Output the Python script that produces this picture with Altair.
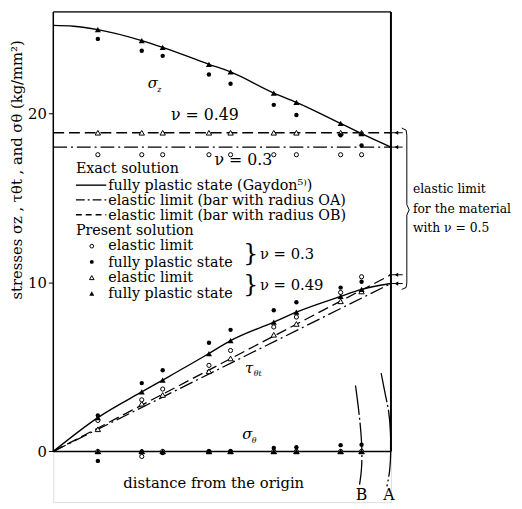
import altair as alt
import pandas as pd

FONT = "DejaVu Serif"

# ---- data ---------------------------------------------------------------
# x positions of the computed points (fraction of the distance O -> A)
x_pts = [0.132, 0.262, 0.324, 0.461, 0.525, 0.653, 0.720, 0.851, 0.913]

# sigma_z
sz_e03 = [17.55, 17.55, 17.55, 17.55, 17.55, 17.55, 17.55, 17.55, 17.55]
sz_p03 = [24.4, 23.7, 23.4, 22.3, 21.75, 20.5, 19.9, 18.7, 18.1]
sz_e049 = [18.85, 18.85, 18.85, 18.85, 18.85, 18.85, 18.85, 18.85, 18.85]
sz_p049 = [24.95, 24.3, 23.9, 22.9, 22.45, 21.2, 20.65, 19.4, 18.8]
# tau_theta_t
tau_e03 = [1.83, 3.05, 3.69, 5.09, 5.97, 7.36, 7.95, 9.4, 10.33]
tau_p03 = [2.12, 4.04, 4.8, 6.43, 7.19, 8.35, 8.82, 9.69, 10.04]
tau_e049 = [1.31, 2.82, 3.34, 4.74, 5.5, 6.9, 7.54, 8.88, 9.46]
tau_p049 = [2.0, 3.52, 4.22, 5.79, 6.55, 7.65, 8.24, 9.17, 9.58]
# sigma_theta
st_e03 = [0.0, -0.3, 0.0, 0.0, 0.0, 0.0, 0.0, 0.0, 0.0]
st_p03 = [-0.56, 0.0, -0.1, 0.0, 0.0, 0.2, 0.25, 0.37, 0.4]
st_e049 = [0.0, 0.0, 0.0, 0.0, 0.0, 0.0, 0.0, 0.0, 0.0]
st_p049 = [0.0, 0.0, 0.0, 0.0, 0.0, 0.0, 0.0, 0.0, 0.0]

# exact solutions
gay_sz_x = [0.0, 0.06, 0.132, 0.262, 0.324, 0.461, 0.525, 0.653, 0.72, 0.851, 0.913, 1.0]
gay_sz_v = [25.2, 25.15, 24.95, 24.3, 23.9, 22.9, 22.45, 21.2, 20.65, 19.4, 18.8, 18.0]
gay_tau_x = [0.0, 0.132, 0.262, 0.324, 0.461, 0.525, 0.653, 0.72, 0.851, 0.913, 1.0]
gay_tau_v = [0.0, 2.0, 3.52, 4.22, 5.79, 6.55, 7.65, 8.24, 9.17, 9.58, 9.93]
oa_x = [0.0, 1.0]
oa_sz = [18.0, 18.0]
oa_tau = [0.0, 9.93]
ob_sz = [18.85, 18.85]
ob_tau = [0.0, 10.45]

# radii B and A (arcs)
arcA_x = [0.971, 0.985, 0.994, 0.999, 1.0, 0.997, 0.988]
arcA_y = [4.63, 3.17, 2.41, 1.2, -0.03, -1.2, -2.07]
arcB_x = [0.895, 0.905, 0.911, 0.915, 0.913, 0.907]
arcB_y = [3.9, 2.4, 1.2, -0.03, -1.2, -1.96]

# ---- helpers ------------------------------------------------------------
X = alt.Scale(domain=[0, 1])
Y = alt.Scale(domain=[-3, 26])


def pts(values):
    rows = []
    for xs, vs in values:
        rows += [{"x": a, "v": b} for a, b in zip(xs, vs)]
    return pd.DataFrame(rows)


def line(xs, vs, dash=None, width=1.4, interp="monotone"):
    kw = dict(color="black", strokeWidth=width, interpolate=interp, clip=False)
    if dash:
        kw["strokeDash"] = dash
    df = pd.DataFrame({"x": xs, "v": vs, "i": list(range(len(xs)))})
    return alt.Chart(df).mark_line(**kw).encode(
        x=alt.X("x:Q", scale=X, axis=None), y=alt.Y("v:Q", scale=Y), order="i:Q"
    )


def points(data, shape, filled, size):
    kw = dict(shape=shape, filled=filled, size=size, color="black", opacity=1, clip=False)
    if not filled:
        kw["strokeWidth"] = 1
        kw["fill"] = "white"
        kw["fillOpacity"] = 1
    return alt.Chart(data).mark_point(**kw).encode(
        x=alt.X("x:Q", scale=X, axis=None), y=alt.Y("v:Q", scale=Y)
    )


def text(rows, size=13, align="left", style="normal", baseline="middle"):
    df = pd.DataFrame(rows, columns=["x", "v", "t"])
    return alt.Chart(df).mark_text(
        font=FONT, fontSize=size, align=align, baseline=baseline, fontStyle=style, color="black"
    ).encode(x=alt.X("x:Q", scale=X, axis=None), y=alt.Y("v:Q", scale=Y), text="t:N")


def rule(x, x2, y, y2, dash=None, width=1.3):
    kw = dict(color="black", strokeWidth=width)
    if dash:
        kw["strokeDash"] = dash
    df = pd.DataFrame({"x": [x], "x2": [x2], "v": [y], "v2": [y2]})
    return alt.Chart(df).mark_rule(**kw).encode(
        x=alt.X("x:Q", scale=X, axis=None), x2="x2:Q", y=alt.Y("v:Q", scale=Y), y2="v2:Q"
    )


DASH = [11, 5]
DASHDOT = [14, 4, 2, 4]

# ---- frame / axis ---------------------------------------------------------
axis_layer = alt.Chart(pd.DataFrame({"x": [0.0], "v": [0.0], "v2": [26.0]})).mark_rule(
    color="black", strokeWidth=1.5
).encode(
    x=alt.X("x:Q", scale=X, axis=None),
    y=alt.Y(
        "v:Q",
        scale=Y,
        axis=alt.Axis(
            values=[0, 10, 20],
            domain=False,
            grid=False,
            tickSize=5,
            tickColor="black",
            labelFont=FONT,
            labelFontSize=15,
            labelColor="black",
            labelPadding=2,
            title="stresses  σz ,  τθt ,  and  σθ    (kg/mm²)",
            titleFont=FONT,
            titleFontSize=15,
            titleFontWeight="normal",
            titleColor="black",
            titleAngle=270,
            titleX=-37,
            titleY=160,
            titleAlign="center",
            titleBaseline="middle",
        ),
    ),
    y2="v2:Q",
)

frame = [
    axis_layer,
    rule(0, 1, 26, 26, width=1.5),
    rule(1, 1, 0, 26, width=2),
    rule(0, 1, 0, 0, width=1.5),
]

# ---- curves ---------------------------------------------------------------
curves = [
    line(gay_sz_x, gay_sz_v),
    line(gay_tau_x, gay_tau_v),
    line(oa_x, oa_sz, DASHDOT, 1.3, "linear"),
    line(oa_x, ob_sz, DASH, 1.3, "linear"),
    line(oa_x, oa_tau, DASHDOT, 1.3, "linear"),
    line(oa_x, ob_tau, DASH, 1.3, "linear"),
    line(arcA_x, arcA_y, [30, 3, 2, 3], 1.3, "basis"),
    line(arcB_x, arcB_y, [30, 3, 2, 3], 1.3, "basis"),
]

# ---- points -------------------------------------------------------------------
e03 = pts([(x_pts, sz_e03), (x_pts, tau_e03), (x_pts, st_e03)])
p03 = pts([(x_pts, sz_p03), (x_pts, tau_p03), (x_pts, st_p03)])
e049 = pts([(x_pts, sz_e049), (x_pts, tau_e049), (x_pts, st_e049)])
p049 = pts([(x_pts, sz_p049), (x_pts, tau_p049), (x_pts, st_p049)])

marks = [
    points(e049, "triangle-up", False, 30),
    points(e03, "circle", False, 18),
    points(p049, "triangle-up", True, 38),
    points(p03, "circle", True, 20),
]

# ---- arrows at the right edge ---------------------------------------------------
arrow_levels = [18.85, 18.0, 10.45, 9.93]
arrows = [rule(0.995, 1.035, lv, lv, width=1) for lv in arrow_levels]
arrows.append(
    alt.Chart(pd.DataFrame({"x": [1.016] * 4, "v": arrow_levels}))
    .mark_point(shape="triangle-left", filled=True, size=18, color="black", opacity=1, clip=False)
    .encode(x=alt.X("x:Q", scale=X, axis=None), y=alt.Y("v:Q", scale=Y))
)

# ---- brace on the right ------------------------------------------------------------
brace_x = [1.032, 1.045, 1.047, 1.047, 1.054, 1.047, 1.047, 1.045, 1.032]
brace_y = [19.13, 19.0, 18.7, 14.6, 14.29, 13.98, 9.97, 9.7, 9.58]
brace = line(brace_x, brace_y, None, 1.0, "linear")

# ---- legend ---------------------------------------------------------------------
legend_rules = [
    rule(0.067, 0.157, 15.75, 15.75, None, 1.4),
    rule(0.067, 0.157, 14.88, 14.88, [9, 3, 2, 3], 1.3),
    rule(0.067, 0.157, 14.0, 14.0, [6, 4], 1.3),
]
leg_sym = [
    points(pd.DataFrame({"x": [0.114], "v": [12.14]}), "circle", False, 14),
    points(pd.DataFrame({"x": [0.114], "v": [11.21]}), "circle", True, 16),
    points(pd.DataFrame({"x": [0.114], "v": [10.28]}), "triangle-up", False, 22),
    points(pd.DataFrame({"x": [0.114], "v": [9.34]}), "triangle-up", True, 26),
]
legend_text = text(
    [
        (0.067, 16.68, "Exact  solution"),
        (0.163, 15.7, "fully plastic state (Gaydon⁵⁾)"),
        (0.163, 14.83, "elastic limit (bar with radius OA)"),
        (0.163, 13.95, "elastic limit (bar with radius OB)"),
        (0.067, 13.01, "Present  solution"),
        (0.163, 12.14, "elastic limit"),
        (0.163, 11.13, "fully plastic state"),
        (0.163, 10.28, "elastic limit"),
        (0.163, 9.28, "fully plastic state"),
    ],
    size=14.5,
)
nu_text = text([(0.612, 11.67, "ν = 0.3"), (0.612, 9.81, "ν = 0.49")], size=15)
side_text = text(
    [
        (1.065, 15.52, "elastic limit"),
        (1.065, 14.35, "for the material"),
        (1.065, 13.19, "with  ν = 0.5"),
    ],
    size=12.5,
)
braces_small = text([(0.585, 11.67, "}"), (0.585, 9.81, "}")], size=24, align="center")

labels = [
    text([(0.449, 19.88, "ν = 0.49"), (0.563, 17.26, "ν = 0.3")], size=16, align="center"),
    text([(0.475, -1.85, "distance from the origin")], size=15, align="center"),
    text([(0.913, -2.6, "B"), (0.994, -2.6, "A")], size=16, align="center"),
    text([(0.28, 21.8, "σ"), (0.568, 4.95, "τ"), (0.560, 1.0, "σ")], size=15, style="italic"),
    text([(0.308, 21.4, "z"), (0.594, 4.6, "θt"), (0.588, 0.6, "θ")], size=8, style="italic"),
]

chart = alt.layer(
    *frame, *curves, *arrows, brace, *marks, *legend_rules, *leg_sym, legend_text, nu_text,
    side_text, braces_small, *labels
).properties(
    width=343,
    height=498,
    autosize=alt.AutoSizeParams(type="none"),
    padding={"left": 46, "top": 0, "right": 125, "bottom": 0},
).configure_view(stroke=None).configure(background="white")

chart.save("out.html", embed_options={"renderer": "svg", "actions": False})
